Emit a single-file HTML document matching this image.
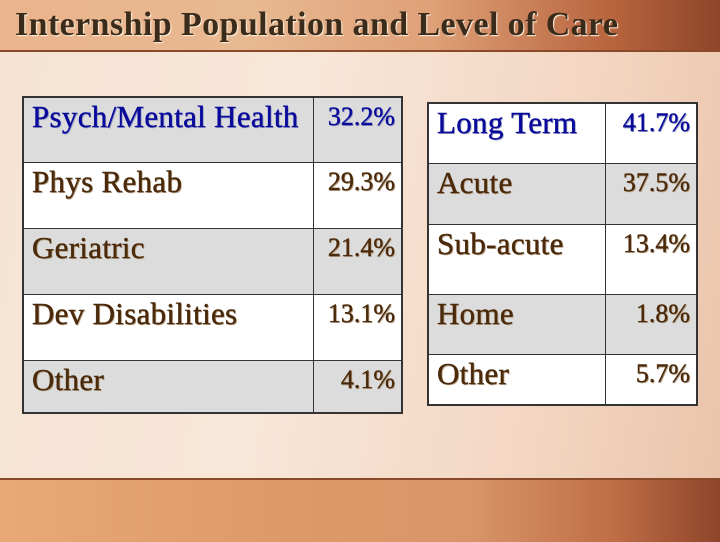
<!DOCTYPE html>
<html><head><meta charset="utf-8"><style>
body{margin:0;width:720px;height:540px;overflow:hidden;position:relative;font-family:"Liberation Serif",serif;
background:linear-gradient(100deg,#f6e3d4 0%,#f8e6d8 40%,#f3d6c2 75%,#e9c3aa 100%);}
#title-bar{position:absolute;left:0;top:0;width:720px;height:50px;border-bottom:2px solid #8a4a2a;
background:linear-gradient(90deg,#eab48c 0%,#e8b891 35%,#dea077 60%,#b8643e 85%,#8e452a 100%);}
#title{position:absolute;left:15px;top:6px;font-size:34px;color:#3b2b1b;text-shadow:1px 1px 1px #fff3e0;margin:0;font-weight:bold;letter-spacing:0.4px;white-space:nowrap}
#bottom-band{position:absolute;left:0;top:478px;width:720px;height:62px;border-top:2px solid #8a4a2a;
background:linear-gradient(90deg,#e8a878 0%,#dd9a68 40%,#d9956a 65%,#c06e46 85%,#8e452a 100%);}
.tbl{position:absolute;border:2px solid #333;box-sizing:border-box;overflow:hidden}
.cell{position:absolute;box-sizing:border-box;color:#4a2a0a;text-shadow:1px 1px 0 #b9a48c;padding-top:2px;font-weight:normal;-webkit-text-stroke:0.4px currentColor;white-space:nowrap;line-height:34px}
.g{background:#dcdcdc}.w{background:#fff}
.lab{padding-left:8px;letter-spacing:0.3px}.val{text-align:right;padding-right:6px;border-left:1px solid #333;font-size:26px}
.row{position:absolute;left:0;right:0;border-top:1px solid #333;box-sizing:border-box}
</style></head><body>
<div id="title-bar"></div>
<h1 id="title">Internship Population and Level of Care</h1>
<div id="bottom-band"></div>
<div class="tbl" id="t1" style="left:22px;top:96px;width:381px;height:318px"></div>
<div class="tbl" id="t2" style="left:427px;top:102px;width:271px;height:304px"></div>
<script>
const popLabels=["Psych/Mental Health","Phys Rehab","Geriatric","Dev Disabilities","Other"];
const popValues=["32.2%","29.3%","21.4%","13.1%","4.1%"];
const careLabels=["Long Term","Acute","Sub-acute","Home","Other"];
const careValues=["41.7%","37.5%","13.4%","1.8%","5.7%"];
function build(id,labels,values,rowTops,splitX,width,firstGray,firstBlue,fs){
  const t=document.getElementById(id);
  for(let i=0;i<labels.length;i++){
    const top=rowTops[i],h=rowTops[i+1]-top;
    const r=document.createElement('div');
    
    
    r.className='row '+(((i%2===0)===firstGray)?'g':'w');
    r.style.top=top+'px';r.style.height=h+'px';
    if(i===0)r.style.borderTop='none';
    const a=document.createElement('div');
    
    
    a.className='cell lab';a.style.left='0';a.style.top='0';a.style.width=splitX+'px';a.style.height='100%';
    a.style.fontSize=fs+'px';
    if(i===0&&firstBlue){a.style.color='#0a0a9a';a.style.textShadow='1px 1px 0 #9aa0c0';}
    a.textContent=labels[i];
    const b=document.createElement('div');
    
    
    b.className='cell val';b.style.left=splitX+'px';b.style.top='0';b.style.width=(width-splitX)+'px';b.style.height='100%';
    if(i===0&&firstBlue){b.style.color='#0a0a9a';b.style.textShadow='1px 1px 0 #9aa0c0';}
    b.textContent=values[i];
    r.appendChild(a);r.appendChild(b);t.appendChild(r);
  }
}
build('t1',popLabels,popValues,[0,64,130,196,262,314],289,377,true,true,31);
build('t2',careLabels,careValues,[0,59,120,190,250,300],176,267,false,true,31);
</script>
</body></html>
